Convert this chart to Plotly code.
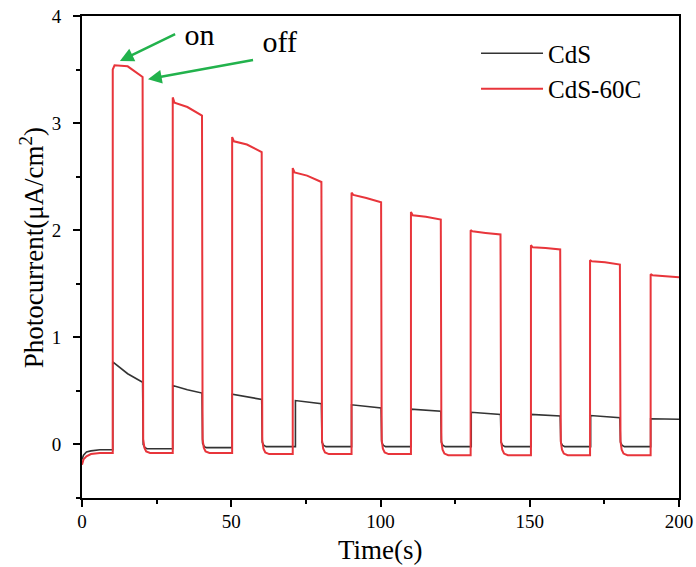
import plotly.graph_objects as go

# ---------------- data ----------------
# initial dark segment (t = 0 .. first light-on)
init_t = [0.0, 0.5, 1.5, 3.0, 6.0]
red_init = [-0.19, -0.14, -0.11, -0.09, -0.08]
black_init = [-0.14, -0.10, -0.07, -0.06, -0.05]

# light on / off times (s)
red_on = [10.3, 30.4, 50.3, 70.6, 90.3, 110.2, 130.2, 150.4, 170.2, 190.5]
black_on = [10.3, 30.4, 50.3, 71.5, 90.3, 110.2, 130.4, 150.4, 170.4, 190.5]
off_t = [20.3, 40.2, 60.2, 80.2, 100.2, 120.2, 140.2, 160.2, 180.2, 200.0]

# CdS-60C (red) photocurrent during illumination
red_spike = [3.50, 3.24, 2.87, 2.58, 2.35, 2.17, 2.00, 1.86, 1.72, 1.59]
red_plateau = [3.54, 3.19, 2.83, 2.54, 2.33, 2.14, 1.99, 1.84, 1.71, 1.58]
red_mid = [3.53, 3.15, 2.80, 2.51, 2.30, 2.125, 1.975, 1.835, 1.70, 1.57]
red_end = [3.43, 3.07, 2.73, 2.45, 2.26, 2.10, 1.96, 1.82, 1.68, 1.56]
red_dark = [-0.08, -0.08, -0.09, -0.09, -0.09, -0.10, -0.10, -0.10, -0.10]

# CdS (black) photocurrent during illumination
black_start = [0.77, 0.55, 0.47, 0.41, 0.37, 0.33, 0.30, 0.28, 0.27, 0.24]
black_mid = [0.66, 0.51, 0.445, 0.395, 0.355, 0.32, 0.29, 0.272, 0.26, 0.237]
black_end = [0.58, 0.48, 0.42, 0.38, 0.34, 0.31, 0.28, 0.265, 0.25, 0.235]
black_dark = [-0.04, -0.03, -0.02, -0.02, -0.02, -0.02, -0.02, -0.02, -0.02]

# decay shape right after light-off (offset s, value above dark level)
red_tail_dt = [0.2, 0.6, 1.2, 2.5]
red_tail_dv = [0.13, 0.05, 0.015, 0.0]
black_tail_dt = [0.2, 0.8, 1.5]
black_tail_dv = [0.04, 0.01, 0.0]

# "on"/"off" markers: arrow head and tail positions (data units)
marker_text = ["on", "off"]
marker_head = [(12.7, 3.58), (22.1, 3.41)]
marker_tail = [(31.2, 3.83), (57.3, 3.59)]

x_title = "Time(s)"
y_title = "Photocurrent(μA/cm<sup>2</sup>)"


def build(init_v, on, start, plateau, mid, end, dark, tail_dt, tail_dv, first_dark):
    t = list(init_t)
    v = list(init_v)
    prev_dark = first_dark
    for i in range(len(on)):
        t += [on[i], on[i]]
        v += [prev_dark, start[i]]
        if plateau is not None:
            t.append(on[i] + 0.6)
            v.append(plateau[i])
        t.append((on[i] + off_t[i]) / 2)
        v.append(mid[i])
        t.append(off_t[i])
        v.append(end[i])
        if i < len(dark):
            for dt, dv in zip(tail_dt, tail_dv):
                t.append(off_t[i] + dt)
                v.append(dark[i] + dv)
            prev_dark = dark[i]
    return t, v


red_t, red_v = build(red_init, red_on, red_spike, red_plateau, red_mid, red_end,
                     red_dark, red_tail_dt, red_tail_dv, red_init[-1])
black_t, black_v = build(black_init, black_on, black_start, None, black_mid, black_end,
                         black_dark, black_tail_dt, black_tail_dv, black_init[-1])

FONT = "Liberation Serif"

fig = go.Figure()
fig.add_trace(go.Scatter(x=black_t, y=black_v, mode="lines", name="CdS",
                         line=dict(color="#333333", width=1.6)))
fig.add_trace(go.Scatter(x=red_t, y=red_v, mode="lines", name="CdS-60C",
                         line=dict(color="#e8353b", width=2)))

arrow_green = "#22b24c"
yanchors = ["middle", "bottom"]
for txt, (hx, hy), (tx, ty), ya in zip(marker_text, marker_head, marker_tail, yanchors):
    fig.add_annotation(x=hx, y=hy, ax=tx, ay=ty, xref="x", yref="y",
                       axref="x", ayref="y", text="\u00a0" + txt, showarrow=True,
                       xanchor="left", yanchor=ya,
                       font=dict(family=FONT, size=30, color="black"),
                       arrowhead=2, arrowsize=1.1, arrowwidth=2.5, arrowcolor=arrow_green)

# axis titles
fig.add_annotation(x=0.5, y=-0.108, xref="paper", yref="paper", text=x_title,
                   showarrow=False, xanchor="center", yanchor="middle",
                   font=dict(family=FONT, size=27, color="black"))
fig.add_annotation(x=-0.0838, y=0.52, xref="paper", yref="paper", text=y_title,
                   showarrow=False, xanchor="center", yanchor="middle", textangle=-90,
                   font=dict(family=FONT, size=27, color="black"))

axis_common = dict(showline=True, linecolor="black", linewidth=2, mirror=True,
                   ticks="outside", ticklen=7, tickwidth=1.5, tickcolor="black",
                   showgrid=False, zeroline=False, automargin=False,
                   tickfont=dict(family=FONT, size=19, color="black"))

fig.update_xaxes(range=[0, 200], tick0=0, dtick=50,
                 minor=dict(dtick=25, ticks="outside", ticklen=4, tickwidth=1.5, tickcolor="black"),
                 ticklabelstandoff=-2, **axis_common)
fig.update_yaxes(range=[-0.5, 4], tick0=0, dtick=1,
                 minor=dict(dtick=0.5, ticks="outside", ticklen=4, tickwidth=1.5, tickcolor="black"),
                 ticklabelstandoff=8, **axis_common)

fig.update_layout(
    width=696, height=567,
    margin=dict(l=82, r=17, t=16, b=69),
    paper_bgcolor="white", plot_bgcolor="white",
    showlegend=True,
    legend=dict(x=0.66, y=0.97, xanchor="left", yanchor="top",
                bgcolor="rgba(0,0,0,0)", font=dict(family=FONT, size=25, color="black"),
                itemwidth=62, tracegroupgap=0),
)

fig.write_html("out.html")
